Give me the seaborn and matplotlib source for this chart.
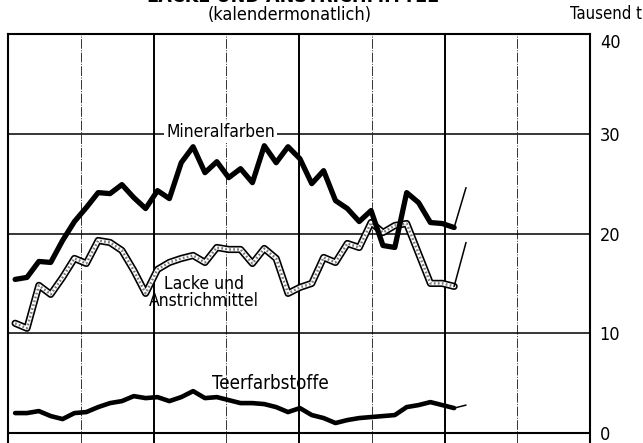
import matplotlib
matplotlib.use("Agg")
import matplotlib.pyplot as plt
import seaborn as sns
import pandas as pd
import numpy as np

# month index (calendar months), last point is the thin "preliminary" segment
months = list(range(39))

mineralfarben = [15.4, 15.6, 17.2, 17.1, 19.3, 21.2, 22.6, 24.1, 24.0, 24.9,
                 23.6, 22.5, 24.3, 23.5, 27.1, 28.7, 26.1, 27.2, 25.6, 26.5,
                 25.1, 28.8, 27.1, 28.7, 27.5, 25.0, 26.3, 23.3, 22.5, 21.2,
                 22.3, 18.8, 18.6, 24.1, 23.1, 21.1, 21.0, 20.6, 24.6]

lacke = [11.0, 10.5, 14.8, 13.9, 15.6, 17.5, 17.0, 19.3, 19.1, 18.3,
         16.3, 14.0, 16.4, 17.1, 17.5, 17.8, 17.1, 18.6, 18.4, 18.4,
         17.0, 18.5, 17.5, 14.0, 14.6, 15.0, 17.6, 17.1, 19.0, 18.6,
         21.1, 20.1, 20.8, 21.0, 18.0, 15.0, 15.0, 14.7, 19.1]

teerfarbstoffe = [2.0, 2.0, 2.2, 1.7, 1.4, 2.0, 2.1, 2.6, 3.0, 3.2,
                  3.7, 3.5, 3.6, 3.2, 3.6, 4.2, 3.5, 3.6, 3.3, 3.0,
                  3.0, 2.9, 2.6, 2.1, 2.5, 1.8, 1.5, 1.0, 1.3, 1.5,
                  1.6, 1.7, 1.8, 2.6, 2.8, 3.1, 2.8, 2.5, 2.8]

y_ticks = [0, 10, 20, 30, 40]

df = pd.DataFrame({'Monat': months, 'Mineralfarben': mineralfarben,
                   'Lacke': lacke, 'Teer': teerfarbstoffe})
solid = df.iloc[:-1]
tail = df.iloc[-2:]

sns.set_style("white")
plt.rcParams['font.family'] = ['DejaVu Sans']
plt.rcParams['font.stretch'] = 'condensed'
plt.rcParams['text.color'] = 'black'
plt.rcParams['ytick.color'] = 'black'

fig = plt.figure(figsize=(6.43, 4.43), dpi=100)
ax = fig.add_axes([8 / 643, 0, 582 / 643, 409 / 443])
ax.set_xlim(-0.6, 48.45)
ax.set_ylim(-1, 40)

# grid: half-year lines, thick at year boundaries
x0, x1 = ax.get_xlim()
vlines = np.linspace(x0, x1, 9)[1:-1]
for k, xv in enumerate(vlines, start=1):
    if k % 2 == 0:
        ax.axvline(xv, color='black', lw=1.4, zorder=1)
    else:
        ax.axvline(xv, color='#333333', lw=0.7, ls=(0, (10, 1.5, 1, 1.5)),
                   zorder=1)
for yv in [10, 20, 30]:
    ax.axhline(yv, color='black', lw=1.1, zorder=1)
ax.axhline(0, color='black', lw=1.5, zorder=1)

for side in ['left', 'right', 'top']:
    ax.spines[side].set_color('black')
    ax.spines[side].set_linewidth(1.5)
ax.spines['bottom'].set_visible(False)

# Mineralfarben
sns.lineplot(data=solid, x='Monat', y='Mineralfarben', ax=ax, color='black',
             lw=3.8, zorder=4)
sns.lineplot(data=tail, x='Monat', y='Mineralfarben', ax=ax, color='black',
             lw=1.1, zorder=4)

# Lacke und Anstrichmittel (hollow hatched band)
sns.lineplot(data=solid, x='Monat', y='Lacke', ax=ax, color='black',
             lw=5.2, zorder=3)
sns.lineplot(data=solid, x='Monat', y='Lacke', ax=ax, color='white',
             lw=2.8, zorder=3)
sns.lineplot(data=solid, x='Monat', y='Lacke', ax=ax, color='#7a7a7a',
             lw=1.8, ls=(0, (0.7, 0.9)), zorder=3)
sns.lineplot(data=tail, x='Monat', y='Lacke', ax=ax, color='black',
             lw=1.1, zorder=3)

# Teerfarbstoffe
sns.lineplot(data=solid, x='Monat', y='Teer', ax=ax, color='black',
             lw=3.3, zorder=4)
sns.lineplot(data=tail, x='Monat', y='Teer', ax=ax, color='black',
             lw=1.1, zorder=4)

# series labels
ax.text(17.3, 30.2, 'Mineralfarben', ha='center', va='center', fontsize=12.5,
        zorder=5, bbox=dict(facecolor='white', edgecolor='none', pad=1.5))
ax.text(15.9, 14.1, 'Lacke und\nAnstrichmittel', ha='center', va='center',
        fontsize=12.5, linespacing=0.95, zorder=5)
ax.text(21.5, 5.0, 'Teerfarbstoffe', ha='center', va='center', fontsize=13.5,
        zorder=5)

ax.set_xticks([])
ax.yaxis.tick_right()
ax.set_yticks(y_ticks)
ax.set_yticklabels([str(v) for v in y_ticks], fontsize=13)
ax.get_yticklabels()[-1].set_va('top')
ax.tick_params(axis='y', length=0, pad=7)
ax.set_xlabel('')
ax.set_ylabel('')

fig.text(0.999, 0.968, 'Tausend t', ha='right', va='center', fontsize=12)
fig.text(0.455, 0.996, 'LACKE UND ANSTRICHMITTEL', ha='center',
         va='baseline', fontsize=14, fontweight='bold')
fig.text(0.45, 0.966, '(kalendermonatlich)', ha='center', va='center',
         fontsize=13)

fig.savefig('out.png', dpi=100)
plt.close(fig)
